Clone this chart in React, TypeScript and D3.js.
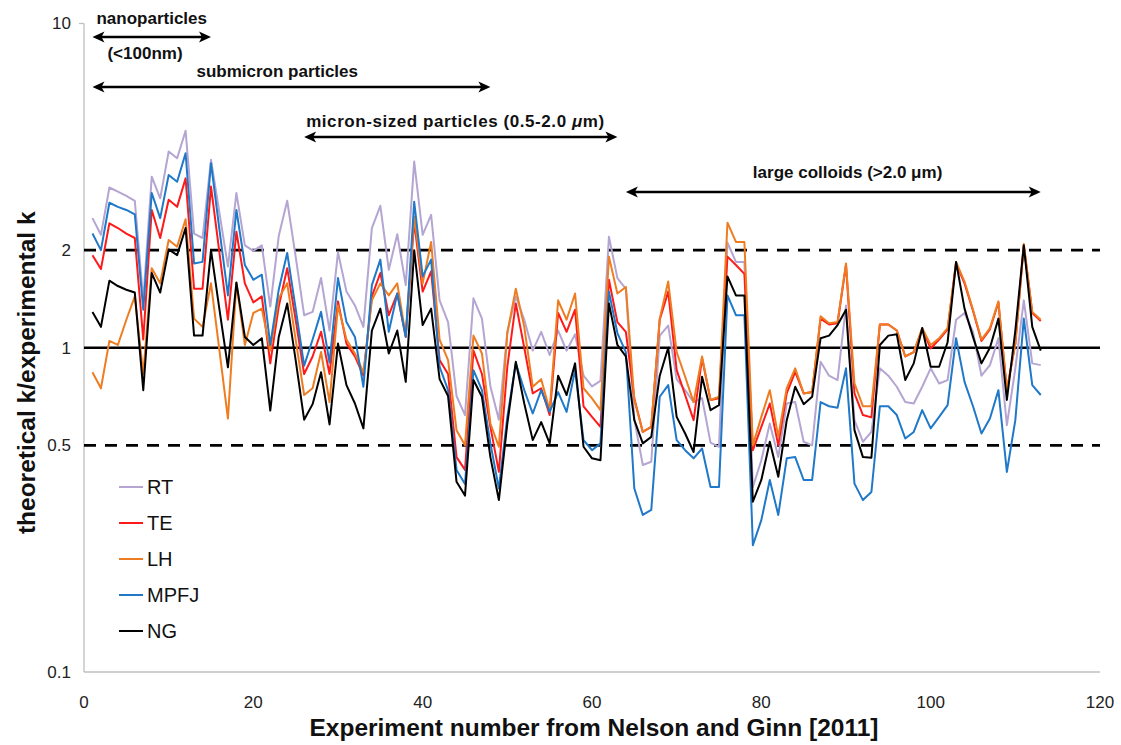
import React from "react";
import * as d3 from "d3";

// theoretical k / experimental k for each experiment (1..113)
const RT = [
  2.51, 2.23, 3.12, 3.03, 2.94, 2.84, 1.40, 3.37, 2.89, 4.03, 3.84, 4.67, 2.25, 2.18, 3.80,
  2.60, 1.78, 3.00, 2.07, 1.99, 2.07, 1.34, 2.21, 2.84, 1.91, 1.26, 1.29, 1.64, 1.13, 1.97,
  1.49, 1.35, 1.16, 2.34, 2.74, 1.74, 2.24, 1.56, 3.75, 2.23, 2.57, 1.40, 1.20, 0.71, 0.62,
  1.42, 1.23, 0.76, 0.60, 1.12, 1.44, 1.22, 0.98, 1.12, 0.95, 1.13, 0.98, 1.10, 0.82, 0.76,
  0.79, 2.20, 1.64, 1.52, 0.60, 0.435, 0.445, 1.09, 1.17, 0.80, 0.74, 0.68, 0.70, 0.51, 0.495,
  2.11, 1.84, 1.84, 0.372, 0.45, 0.584, 0.46, 0.673, 0.68, 0.513, 0.50, 0.905, 0.82, 0.795, 1.35,
  0.598, 0.513, 0.55, 0.864, 0.82, 0.758, 0.68, 0.673, 0.758, 0.864, 0.776, 0.795, 1.22, 1.28, 1.12,
  0.82, 0.884, 1.07, 0.577, 0.864, 1.40, 0.895, 0.884,
];

const TE = [
  1.93, 1.75, 2.42, 2.34, 2.25, 2.18, 1.06, 2.66, 2.18, 2.86, 2.72, 3.33, 1.52, 1.52, 3.14,
  1.96, 1.22, 2.28, 1.58, 1.38, 1.44, 0.895, 1.34, 1.76, 1.22, 0.83, 0.94, 1.12, 0.83, 1.39,
  1.03, 0.94, 0.82, 1.44, 1.70, 1.26, 1.47, 1.08, 2.45, 1.49, 1.72, 0.916, 0.83, 0.46, 0.42,
  0.98, 0.83, 0.57, 0.414, 0.874, 1.37, 1.0, 0.723, 0.75, 0.62, 1.28, 1.12, 1.31, 0.66, 0.612,
  0.57, 1.62, 1.20, 1.12, 0.698, 0.55, 0.57, 1.22, 1.49, 0.853, 0.715, 0.598, 0.927, 0.69, 0.698,
  1.91, 1.80, 1.69, 0.483, 0.57, 0.673, 0.50, 0.723, 0.843, 0.723, 0.73, 1.23, 1.18, 1.19, 1.80,
  0.723, 0.62, 0.61, 1.18, 1.18, 1.13, 0.94, 0.97, 1.14, 0.995, 1.06, 1.14, 1.82, 1.58, 1.30,
  1.05, 1.14, 1.38, 0.74, 1.03, 2.07, 1.28, 1.21,
];

const LH = [
  0.84, 0.75, 1.05, 1.02, 1.22, 1.44, 0.83, 1.76, 1.58, 2.15, 2.05, 2.49, 1.23, 1.16, 1.58,
  0.98, 0.605, 1.58, 1.02, 1.28, 1.32, 0.98, 1.42, 1.58, 1.06, 0.715, 0.75, 0.97, 0.68, 1.35,
  1.06, 0.96, 0.84, 1.40, 1.58, 1.45, 1.58, 1.09, 2.54, 1.58, 2.12, 1.06, 0.916, 0.557, 0.50,
  1.09, 0.96, 0.584, 0.495, 1.11, 1.52, 1.16, 0.758, 0.80, 0.642, 1.40, 1.22, 1.47, 0.75, 0.698,
  0.642, 1.91, 1.47, 1.54, 0.69, 0.55, 0.57, 1.23, 1.60, 0.97, 0.814, 0.68, 0.94, 0.69, 0.706,
  2.43, 2.12, 2.12, 0.50, 0.612, 0.74, 0.531, 0.75, 0.864, 0.723, 0.73, 1.25, 1.19, 1.20, 1.82,
  0.776, 0.66, 0.66, 1.18, 1.18, 1.13, 0.94, 0.97, 1.15, 1.02, 1.07, 1.15, 1.84, 1.60, 1.31,
  1.06, 1.15, 1.39, 0.74, 1.03, 2.09, 1.29, 1.22,
];

const MPFJ = [
  2.25, 2.00, 2.80, 2.72, 2.66, 2.58, 1.31, 3.00, 2.51, 3.41, 3.25, 3.98, 1.82, 1.84, 3.71,
  2.31, 1.45, 2.66, 1.80, 1.62, 1.68, 1.02, 1.51, 1.96, 1.32, 0.88, 1.06, 1.29, 0.90, 1.64,
  1.20, 1.08, 0.758, 1.56, 1.87, 1.12, 1.47, 1.08, 2.82, 1.66, 1.87, 0.874, 0.74, 0.42, 0.38,
  0.853, 0.74, 0.507, 0.368, 0.612, 0.895, 0.74, 0.627, 0.74, 0.634, 0.73, 0.634, 0.853, 0.519, 0.483,
  0.507, 1.49, 1.11, 0.97, 0.368, 0.305, 0.316, 0.706, 0.767, 0.519, 0.483, 0.456, 0.489, 0.372, 0.372,
  1.45, 1.26, 1.26, 0.246, 0.294, 0.391, 0.305, 0.456, 0.46, 0.391, 0.391, 0.68, 0.66, 0.653, 0.864,
  0.381, 0.339, 0.359, 0.66, 0.66, 0.62, 0.525, 0.55, 0.642, 0.564, 0.612, 0.665, 1.07, 0.785, 0.66,
  0.544, 0.605, 0.74, 0.414, 0.598, 1.23, 0.767, 0.715,
];

const NG = [
  1.29, 1.16, 1.61, 1.55, 1.51, 1.48, 0.74, 1.70, 1.48, 2.01, 1.93, 2.34, 1.09, 1.09, 2.0,
  1.31, 0.87, 1.59, 1.08, 1.02, 1.07, 0.64, 1.08, 1.37, 0.916, 0.60, 0.67, 0.84, 0.58, 1.03,
  0.767, 0.673, 0.564, 1.13, 1.32, 0.96, 1.13, 0.785, 2.00, 1.175, 1.32, 0.80, 0.71, 0.386, 0.35,
  0.795, 0.706, 0.46, 0.339, 0.584, 0.905, 0.673, 0.519, 0.59, 0.507, 0.82, 0.715, 0.895, 0.495, 0.456,
  0.45, 1.37, 1.02, 0.94, 0.598, 0.507, 0.531, 0.82, 1.0, 0.612, 0.544, 0.477, 0.814, 0.642, 0.665,
  1.66, 1.45, 1.45, 0.335, 0.391, 0.513, 0.40, 0.598, 0.758, 0.67, 0.706, 1.07, 1.09, 1.175, 1.31,
  0.557, 0.46, 0.458, 1.02, 1.09, 1.10, 0.795, 0.895, 1.15, 0.874, 0.874, 1.04, 1.84, 1.32, 1.08,
  0.895, 1.0, 1.23, 0.69, 1.13, 2.07, 1.16, 0.98,
];

const seriesNames = ["RT", "TE", "LH", "MPFJ", "NG"];
const seriesValues = [RT, TE, LH, MPFJ, NG];
const seriesColors = ["#b4a5d2", "#ff1a1a", "#ee7d22", "#1f78c8", "#000000"];

const xTicks = [0, 20, 40, 60, 80, 100, 120];
const yTicks = [10, 2, 1, 0.5, 0.1];
const dashedRefs = [2, 0.5];
const solidRef = 1;

// size-class ranges along the experiment axis
const rangeLabels = ["nanoparticles", "submicron particles", "micron-sized particles", "large colloids"];
const rangeStart = [1, 1, 26, 64];
const rangeEnd = [15, 48, 63, 113];

const W = 1121;
const H = 745;
const FONT = "'Liberation Sans', Arial, sans-serif";

function Arrow({ x1, x2, y }: { x1: number; x2: number; y: number }) {
  const L = 12;
  const hw = 5.5;
  const head = (tip: number, dir: number) =>
    `M${tip},${y} L${tip - dir * L},${y - hw} L${tip - dir * (L - 3)},${y} L${tip - dir * L},${y + hw} Z`;
  return (
    <g>
      <line x1={x1 + 4} x2={x2 - 4} y1={y} y2={y} stroke="#000" strokeWidth={2.6} />
      <path d={head(x1, -1)} fill="#000" />
      <path d={head(x2, 1)} fill="#000" />
    </g>
  );
}

export default function App() {
  const x = d3.scaleLinear().domain([0, 120]).range([84, 1100]);
  const y = d3.scaleLog().domain([0.1, 10]).range([672, 23.5]);

  const line = d3
    .line<number>()
    .x((_, i) => x(i + 1))
    .y((d) => y(d));

  const arrowY = [37, 87, 137, 192];

  return (
    <svg
      width={W}
      height={H}
      style={{ position: "absolute", left: 0, top: 0, background: "#fff" }}
      fontFamily={FONT}
    >
      {/* axes */}
      <line x1={x(0)} x2={x(0)} y1={y(10)} y2={y(0.1)} stroke="#bfbfbf" strokeWidth={1.3} />
      <line x1={x(0)} x2={x(120)} y1={y(0.1)} y2={y(0.1)} stroke="#bfbfbf" strokeWidth={1.3} />
      <line x1={x(0) - 5} x2={x(0)} y1={y(10)} y2={y(10)} stroke="#bfbfbf" strokeWidth={1.3} />

      {yTicks.map((t) => (
        <text key={t} x={71} y={y(t)} dy="0.35em" textAnchor="end" fontSize={17} fill="#222">
          {String(t)}
        </text>
      ))}
      {xTicks.map((t) => (
        <text key={t} x={x(t)} y={708} textAnchor="middle" fontSize={17} fill="#222">
          {t}
        </text>
      ))}

      {/* reference lines */}
      {dashedRefs.map((r) => (
        <line
          key={r}
          x1={x(0)}
          x2={x(120)}
          y1={y(r)}
          y2={y(r)}
          stroke="#000"
          strokeWidth={2.6}
          strokeDasharray="12 9"
        />
      ))}
      <line x1={x(0)} x2={x(120)} y1={y(solidRef)} y2={y(solidRef)} stroke="#000" strokeWidth={2.6} />

      {/* series */}
      {seriesValues.map((vals, k) => (
        <path
          key={seriesNames[k]}
          d={line(vals) || ""}
          fill="none"
          stroke={seriesColors[k]}
          strokeWidth={2}
          strokeLinejoin="round"
        />
      ))}

      {/* legend */}
      {seriesNames.map((n, k) => (
        <g key={n} transform={`translate(0, ${487 + k * 36})`}>
          <line x1={119} x2={143} y1={0} y2={0} stroke={seriesColors[k]} strokeWidth={2} />
          <text x={147} y={0} dy="0.35em" fontSize={20} fill="#111">
            {n}
          </text>
        </g>
      ))}

      {/* size-class annotations */}
      {rangeLabels.map((lab, k) => (
        <Arrow key={lab} x1={x(rangeStart[k])} x2={x(rangeEnd[k])} y={arrowY[k]} />
      ))}
      <g fontWeight="bold" fontSize={17} fill="#111">
        <text x={x(rangeStart[0]) + 4} y={24}>{rangeLabels[0]}</text>
        <text x={x(rangeStart[0]) + 15} y={59}>(&lt;100nm)</text>
        <text x={x(rangeStart[1]) + 104} y={77}>{rangeLabels[1]}</text>
        <text x={x(rangeStart[2]) + 2} y={127} textLength={298} lengthAdjust="spacing">
          {rangeLabels[2]} (0.5-2.0 <tspan fontStyle="italic">μ</tspan>m)
        </text>
        <text x={x(rangeStart[3]) + 127} y={178}>
          {rangeLabels[3]} (&gt;2.0 μm)
        </text>
      </g>

      {/* axis titles */}
      <text x={594} y={736} textAnchor="middle" fontSize={24.5} fontWeight="bold" fill="#111">
        Experiment number from Nelson and Ginn [2011]
      </text>
      <text
        transform={`translate(35, ${y(1) + 25}) rotate(-90)`}
        textAnchor="middle"
        fontSize={24.5}
        fontWeight="bold"
        fill="#111"
      >
        theoretical k/experimental k
      </text>
    </svg>
  );
}
